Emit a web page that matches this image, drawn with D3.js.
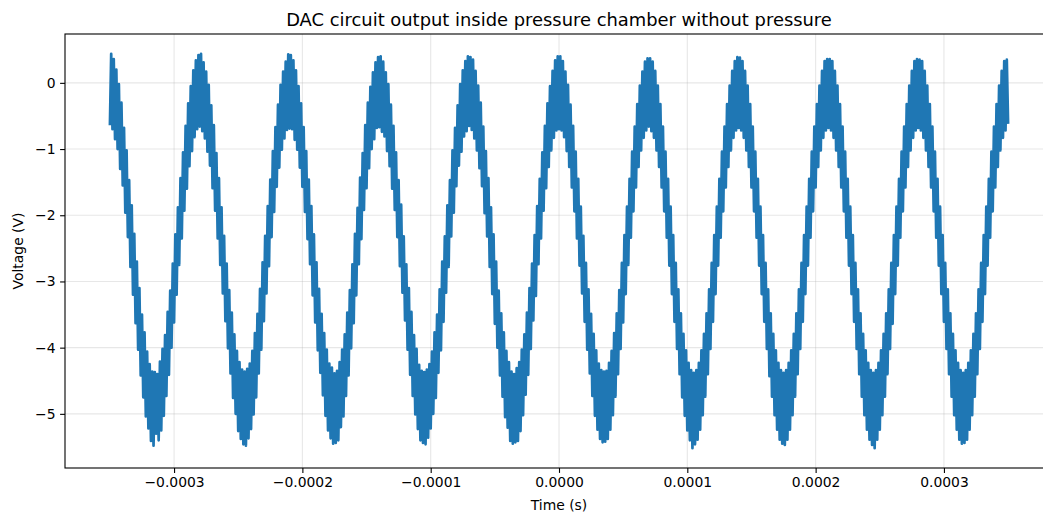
<!DOCTYPE html>
<html>
<head>
<meta charset="utf-8">
<script src="https://cdn.jsdelivr.net/npm/d3@7"></script>
<style>
  body { margin: 0; background: #fff; }
  svg { display: block; }
  text { font-family: "DejaVu Sans", sans-serif; fill: #000; }
</style>
</head>
<body>
<svg id="chart" width="1043" height="513"></svg>
<script>
// ---- chart text and ticks ----
const chartTitle = "DAC circuit output inside pressure chamber without pressure";
const xLabel = "Time (s)";
const yLabel = "Voltage (V)";
const xTicks = [-0.0003, -0.0002, -0.0001, 0, 0.0001, 0.0002, 0.0003];
const yTicks = [-5, -4, -3, -2, -1, 0];

// ---- sampled DAC output: one sample per microsecond, starting at -350 us ----
const sampleStart = -350e-6;
const sampleStep = 1e-6;
const voltage = [
  -0.64, 0.44, -0.70, 0.36, -0.85, 0.20, -1.00, -0.02, -1.30, -0.30,
  -1.55, -0.68, -1.96, -1.02, -2.33, -1.47, -2.78, -1.85, -3.20, -2.28,
  -3.63, -2.70, -4.03, -3.10, -4.42, -3.50, -4.75, -3.77, -5.04, -4.06,
  -5.22, -4.25, -5.41, -4.36, -5.48, -4.37, -5.30, -4.40, -5.40, -4.21,
  -5.25, -4.02, -5.03, -3.81, -4.73, -3.46, -4.41, -3.14, -4.00, -2.73,
  -3.62, -2.29, -3.20, -1.88, -2.75, -1.44, -2.35, -1.05, -1.93, -0.65,
  -1.60, -0.31, -1.26, -0.05, -1.03, 0.19, -0.82, 0.34, -0.70, 0.42,

  -0.66, 0.44, -0.73, 0.31, -0.84, 0.17, -1.04, -0.03, -1.25, -0.34,
  -1.59, -0.64, -1.93, -1.06, -2.35, -1.44, -2.75, -1.88, -3.18, -2.31,
  -3.60, -2.73, -4.01, -3.13, -4.39, -3.47, -4.76, -3.80, -5.00, -4.05,
  -5.26, -4.22, -5.38, -4.33, -5.46, -4.36, -5.48, -4.32, -5.37, -4.24,
  -5.23, -4.05, -5.01, -3.78, -4.75, -3.49, -4.39, -3.11, -4.03, -2.71,
  -3.60, -2.31, -3.18, -1.86, -2.77, -1.46, -2.33, -1.03, -1.95, -0.67,
  -1.57, -0.33, -1.28, -0.03, -1.01, 0.17, -0.84, 0.32, -0.71, 0.43,

  -0.69, 0.42, -0.70, 0.34, -0.86, 0.19, -1.01, -0.05, -1.28, -0.31,
  -1.57, -0.67, -1.95, -1.03, -2.36, -1.46, -2.74, -1.86, -3.21, -2.29,
  -3.62, -2.71, -4.04, -3.11, -4.38, -3.49, -4.72, -3.78, -5.03, -4.03,
  -5.25, -4.24, -5.37, -4.30, -5.45, -4.39, -5.44, -4.35, -5.40, -4.22,
  -5.20, -4.03, -5.04, -3.80, -4.73, -3.47, -4.42, -3.13, -4.01, -2.74,
  -3.63, -2.28, -3.21, -1.89, -2.74, -1.43, -2.36, -1.06, -1.92, -0.64,
  -1.59, -0.30, -1.29, -0.06, -1.00, 0.16, -0.85, 0.31, -0.68, 0.39,

  -0.67, 0.40, -0.74, 0.32, -0.81, 0.16, -1.03, -0.02, -1.26, -0.33,
  -1.60, -0.65, -1.92, -1.05, -2.33, -1.47, -2.77, -1.84, -3.17, -2.32,
  -3.59, -2.74, -4.03, -3.10, -4.41, -3.46, -4.73, -3.81, -5.01, -4.02,
  -5.23, -4.26, -5.40, -4.35, -5.44, -4.37, -5.46, -4.33, -5.36, -4.25,
  -5.22, -4.06, -5.00, -3.77, -4.76, -3.50, -4.38, -3.12, -4.04, -2.70,
  -3.61, -2.32, -3.17, -1.85, -2.78, -1.47, -2.32, -1.02, -1.96, -0.68,
  -1.56, -0.34, -1.25, -0.02, -1.04, 0.19, -0.81, 0.33, -0.73, 0.40,

  -0.65, 0.39, -0.71, 0.35, -0.84, 0.18, -1.02, -0.04, -1.29, -0.30,
  -1.56, -0.66, -1.97, -1.03, -2.32, -1.44, -2.78, -1.88, -3.19, -2.29,
  -3.64, -2.70, -4.00, -3.14, -4.42, -3.48, -4.74, -3.77, -5.05, -4.05,
  -5.21, -4.22, -5.41, -4.36, -5.45, -4.40, -5.43, -4.31, -5.41, -4.22,
  -5.26, -4.03, -5.02, -3.80, -4.71, -3.47, -4.41, -3.10, -4.02, -2.73,
  -3.59, -2.30, -3.22, -1.86, -2.74, -1.45, -2.35, -1.05, -1.93, -0.65,
  -1.59, -0.31, -1.27, -0.05, -1.02, 0.18, -0.83, 0.34, -0.72, 0.40,

  -0.70, 0.40, -0.72, 0.33, -0.82, 0.17, -1.03, -0.03, -1.27, -0.33,
  -1.58, -0.65, -1.94, -1.04, -2.35, -1.45, -2.76, -1.87, -3.18, -2.31,
  -3.61, -2.72, -4.03, -3.12, -4.39, -3.49, -4.73, -3.79, -5.03, -4.04,
  -5.24, -4.24, -5.38, -4.34, -5.43, -4.36, -5.42, -4.35, -5.38, -4.23,
  -5.24, -4.05, -5.02, -3.78, -4.74, -3.48, -4.40, -3.13, -4.02, -2.72,
  -3.62, -2.30, -3.19, -1.87, -2.75, -1.45, -2.34, -1.04, -1.94, -0.66,
  -1.58, -0.32, -1.27, -0.04, -1.02, 0.17, -0.83, 0.32, -0.72, 0.37,

  -0.66, 0.37, -0.73, 0.32, -0.83, 0.18, -1.02, -0.04, -1.27, -0.32,
  -1.58, -0.66, -1.94, -1.04, -2.34, -1.45, -2.76, -1.87, -3.19, -2.30,
  -3.61, -2.72, -4.02, -3.12, -4.40, -3.48, -4.75, -3.79, -5.03, -4.04,
  -5.25, -4.23, -5.40, -4.34, -5.52, -4.38, -5.46, -4.34, -5.39, -4.23,
  -5.24, -4.04, -5.02, -3.79, -4.74, -3.48, -4.40, -3.12, -4.02, -2.72,
  -3.61, -2.30, -3.19, -1.87, -2.76, -1.45, -2.34, -1.04, -1.94, -0.66,
  -1.58, -0.32, -1.27, -0.04, -1.02, 0.18, -0.83, 0.33, -0.72, 0.39,

  -0.68, 0.38, -0.72, 0.33, -0.83, 0.18, -1.02, -0.04, -1.27, -0.32,
  -1.58, -0.66, -1.94, -1.04, -2.34, -1.45, -2.76, -1.87, -3.19, -2.30,
  -3.61, -2.72, -4.02, -3.12, -4.43, -3.48, -4.74, -3.79, -5.02, -4.04,
  -5.24, -4.23, -5.39, -4.34, -5.45, -4.38, -5.47, -4.34, -5.39, -4.23,
  -5.24, -4.04, -5.02, -3.79, -4.74, -3.48, -4.40, -3.12, -4.02, -2.72,
  -3.61, -2.30, -3.19, -1.87, -2.76, -1.45, -2.34, -1.04, -1.94, -0.66,
  -1.58, -0.32, -1.27, -0.04, -1.02, 0.18, -0.83, 0.33, -0.72, 0.36,

  -0.68, 0.36, -0.72, 0.33, -0.83, 0.18, -1.02, -0.04, -1.27, -0.32,
  -1.58, -0.66, -1.94, -1.04, -2.34, -1.45, -2.76, -1.87, -3.19, -2.30,
  -3.61, -2.72, -4.02, -3.12, -4.40, -3.48, -4.74, -3.79, -5.02, -4.04,
  -5.24, -4.23, -5.39, -4.34, -5.47, -4.38, -5.52, -4.34, -5.39, -4.23,
  -5.24, -4.04, -5.02, -3.79, -4.74, -3.48, -4.40, -3.12, -4.02, -2.72,
  -3.64, -2.30, -3.19, -1.87, -2.76, -1.45, -2.34, -1.04, -1.94, -0.66,
  -1.58, -0.32, -1.27, -0.04, -1.02, 0.18, -0.83, 0.33, -0.72, 0.36,

  -0.68, 0.35, -0.72, 0.33, -0.83, 0.18, -1.02, -0.04, -1.27, -0.32,
  -1.58, -0.66, -1.94, -1.04, -2.34, -1.45, -2.76, -1.87, -3.19, -2.30,
  -3.61, -2.72, -4.02, -3.12, -4.40, -3.48, -4.74, -3.79, -5.02, -4.04,
  -5.24, -4.23, -5.39, -4.34, -5.45, -4.38, -5.44, -4.34, -5.39, -4.23,
  -5.24, -4.04, -5.02, -3.79, -4.74, -3.48, -4.40, -3.12, -4.02, -2.72,
  -3.61, -2.30, -3.19, -1.87, -2.76, -1.45, -2.34, -1.04, -1.94, -0.66,
  -1.58, -0.32, -1.27, -0.04, -1.02, 0.18, -0.83, 0.33, -0.72, 0.35,

  -0.62
];

// sample times on the uniform acquisition grid
const time = voltage.map((_, i) => sampleStart + i * sampleStep);
const samples = time.map((t, i) => ({ t, v: voltage[i] }));

// ---- layout ----
const svg = d3.select("#chart");
const plot = { left: 65, top: 34, right: 1053, bottom: 468 };

// axis limits: data extent plus 5% margin on each side
function padded(ext, frac) {
  const span = ext[1] - ext[0];
  return [ext[0] - span * frac, ext[1] + span * frac];
}
const x = d3.scaleLinear()
  .domain(padded(d3.extent(time), 0.05))
  .range([plot.left, plot.right]);
const y = d3.scaleLinear()
  .domain(padded(d3.extent(voltage), 0.05))
  .range([plot.bottom, plot.top]);

svg.append("defs").append("clipPath").attr("id", "plot-clip")
  .append("rect")
  .attr("x", plot.left).attr("y", plot.top)
  .attr("width", plot.right - plot.left).attr("height", plot.bottom - plot.top);

// ---- grid ----
const grid = svg.append("g")
  .attr("stroke", "#b0b0b0")
  .attr("stroke-opacity", 0.3)
  .attr("stroke-width", 1.1);
grid.selectAll("line.gx").data(xTicks).join("line")
  .attr("class", "gx")
  .attr("x1", d => x(d)).attr("x2", d => x(d))
  .attr("y1", plot.top).attr("y2", plot.bottom);
grid.selectAll("line.gy").data(yTicks).join("line")
  .attr("class", "gy")
  .attr("x1", plot.left).attr("x2", plot.right)
  .attr("y1", d => y(d)).attr("y2", d => y(d));

// ---- signal trace ----
const line = d3.line().x(d => x(d.t)).y(d => y(d.v));
svg.append("path")
  .datum(samples)
  .attr("clip-path", "url(#plot-clip)")
  .attr("fill", "none")
  .attr("stroke", "#1f77b4")
  .attr("stroke-width", 2.7)
  .attr("stroke-linejoin", "round")
  .attr("d", line);

// ---- axes ----
const fmtX = d3.format(".4f");
const fmtY = d3.format("d");

const xAxis = svg.append("g")
  .attr("transform", `translate(0,${plot.bottom})`)
  .call(d3.axisBottom(x).tickValues(xTicks).tickFormat(fmtX)
    .tickSize(4.9).tickPadding(4.2).tickSizeOuter(0));
const yAxis = svg.append("g")
  .attr("transform", `translate(${plot.left},0)`)
  .call(d3.axisLeft(y).tickValues(yTicks).tickFormat(fmtY)
    .tickSize(4.9).tickPadding(4.6).tickSizeOuter(0));

[xAxis, yAxis].forEach(g => {
  g.select(".domain").remove();
  g.selectAll(".tick line").attr("stroke", "#000").attr("stroke-width", 1.1);
  g.selectAll(".tick text")
    .attr("fill", "#000")
    .style("font-size", "13.9px")
    .style("font-family", "'DejaVu Sans', sans-serif");
});

// spines
const spines = svg.append("g")
  .attr("stroke", "#000")
  .attr("stroke-width", 1.1)
  .attr("fill", "none");
spines.append("rect")
  .attr("x", plot.left).attr("y", plot.top)
  .attr("width", plot.right - plot.left).attr("height", plot.bottom - plot.top);

// ---- titles ----
svg.append("text")
  .attr("x", (plot.left + plot.right) / 2)
  .attr("y", 25.5)
  .attr("text-anchor", "middle")
  .style("font-size", "17.9px")
  .text(chartTitle);

svg.append("text")
  .attr("x", (plot.left + plot.right) / 2)
  .attr("y", 510)
  .attr("text-anchor", "middle")
  .style("font-size", "13.9px")
  .text(xLabel);

svg.append("text")
  .attr("transform", `translate(23,${(plot.top + plot.bottom) / 2}) rotate(-90)`)
  .attr("text-anchor", "middle")
  .style("font-size", "13.9px")
  .text(yLabel);
</script>
</body>
</html>
